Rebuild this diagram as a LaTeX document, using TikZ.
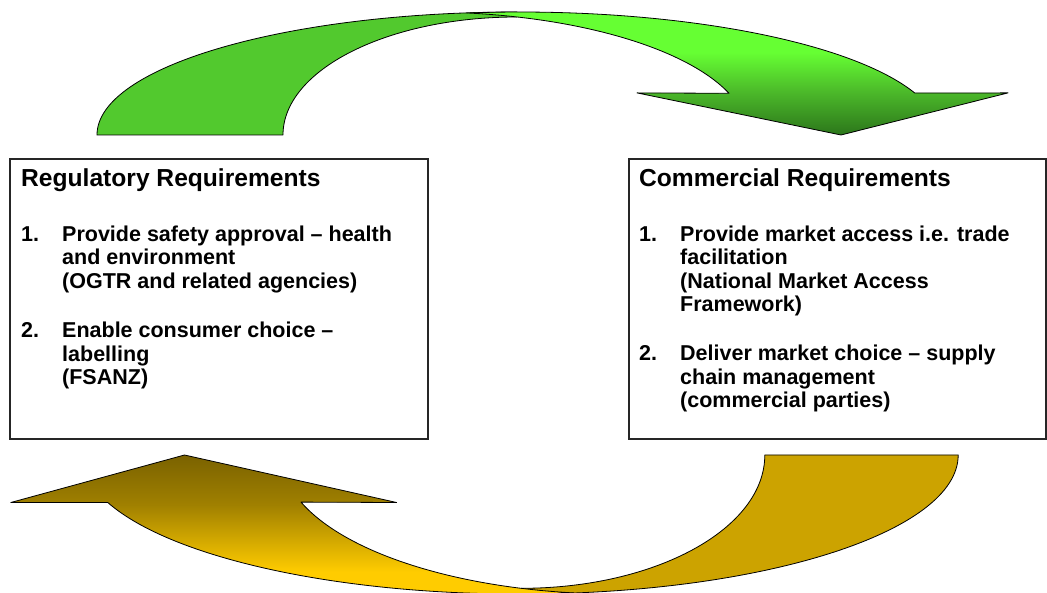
\documentclass[tikz,border=0pt]{standalone}
\usepackage{fontspec}
\setmainfont{Liberation Sans}
\definecolor{greenback}{RGB}{82,201,46}
\definecolor{greenlight}{RGB}{102,255,51}
\definecolor{greenmid}{RGB}{76,186,42}
\definecolor{greendark}{RGB}{44,118,27}
\definecolor{goldback}{RGB}{204,163,0}
\definecolor{goldlight}{RGB}{255,204,0}
\definecolor{goldmid}{RGB}{160,128,0}
\definecolor{golddark}{RGB}{122,98,0}
\pgfdeclareverticalshading{greenfront}{100bp}{color(0bp)=(greendark); color(25bp)=(greendark); color(42bp)=(greenmid); color(57bp)=(greenlight); color(100bp)=(greenlight)}
\pgfdeclareverticalshading{goldfront}{100bp}{color(0bp)=(goldlight); color(25bp)=(goldlight); color(35bp)=(goldlight); color(58bp)=(goldmid); color(75bp)=(golddark); color(100bp)=(golddark)}
\tikzset{
  arrowpart/.style={draw=black, line width=0.8pt, line join=round},
  reqbox/.style={draw=black!85, line width=1.1pt, fill=white},
  titletext/.style={anchor=base west, inner sep=0pt, font=\fontsize{24.6}{28}\selectfont\bfseries},
  numtext/.style={anchor=base west, inner sep=0pt, font=\fontsize{21.5}{23.3}\selectfont\bfseries},
  itemtext/.style={anchor=base west, inner sep=0pt},
}
\newcommand{\itemlines}[1]{\parbox[t]{360pt}{\fontsize{21.5}{23.3}\selectfont\bfseries\raggedright #1}}
\begin{document}
\begin{tikzpicture}[x=1pt,y=1pt]
\useasboundingbox (0,0) rectangle (1047,592);
\fill[white] (0,0) rectangle (1047,592);

% ---- green curved arrow (top) ----
\path[arrowpart, fill=greenback] (97,457) arc[start angle=180, end angle=90, x radius=420, y radius=123]
  -- (517,575) arc[start angle=90, end angle=180, x radius=234, y radius=118] -- cycle;
\path[arrowpart, shading=greenfront] (467.4,579.0) arc[start angle=97.2, end angle=20, x radius=420, y radius=123]
  -- (1008,499.1) -- (841,457) -- (637,499.1) -- (729.0,498.7)
  arc[start angle=19.8, end angle=82.7, x radius=322, y radius=123] -- cycle;

% ---- gold curved arrow (bottom) ----
\path[arrowpart, fill=goldback] (958.2,137) arc[start angle=0, end angle=-90, x radius=436.8, y radius=139]
  -- (521.4,3.7) arc[start angle=-90, end angle=0, x radius=243.4, y radius=133.3] -- cycle;
\path[arrowpart, shading=goldfront] (573.0,-0.9) arc[start angle=277.2, end angle=200, x radius=436.8, y radius=139]
  -- (10.8,89.5) -- (184.5,137) -- (396.6,89.5) -- (301.0,89.9)
  arc[start angle=199.8, end angle=262.7, x radius=334.9, y radius=139] -- cycle;

% ---- boxes ----
\draw[reqbox] (10,153) rectangle (428,433);
\draw[reqbox] (629,153) rectangle (1046,433);

% ---- left box text ----
\node[titletext] (regtitle) at (21,405) {Regulatory Requirements};
\node[numtext] (regn1) at (21,350.3) {1.};
\node[itemtext] (regi1) at (62,350.3) {\itemlines{Provide safety approval -- health\\ and environment\\ (OGTR and related agencies)}};
\node[numtext] (regn2) at (21,254) {2.};
\node[itemtext] (regi2) at (62,254) {\itemlines{Enable consumer choice --\\ labelling\\ (FSANZ)}};

% ---- right box text ----
\node[titletext] (comtitle) at (639,405) {Commercial Requirements};
\node[numtext] (comn1) at (639,350.3) {1.};
\node[itemtext] (comi1) at (680,350.3) {\itemlines{Provide market access i.e. trade\\ facilitation\\ (National Market Access\\ Framework)}};
\node[numtext] (comn2) at (639,231) {2.};
\node[itemtext] (comi2) at (680,231) {\itemlines{Deliver market choice -- supply\\ chain management\\ (commercial parties)}};
\end{tikzpicture}
\end{document}
